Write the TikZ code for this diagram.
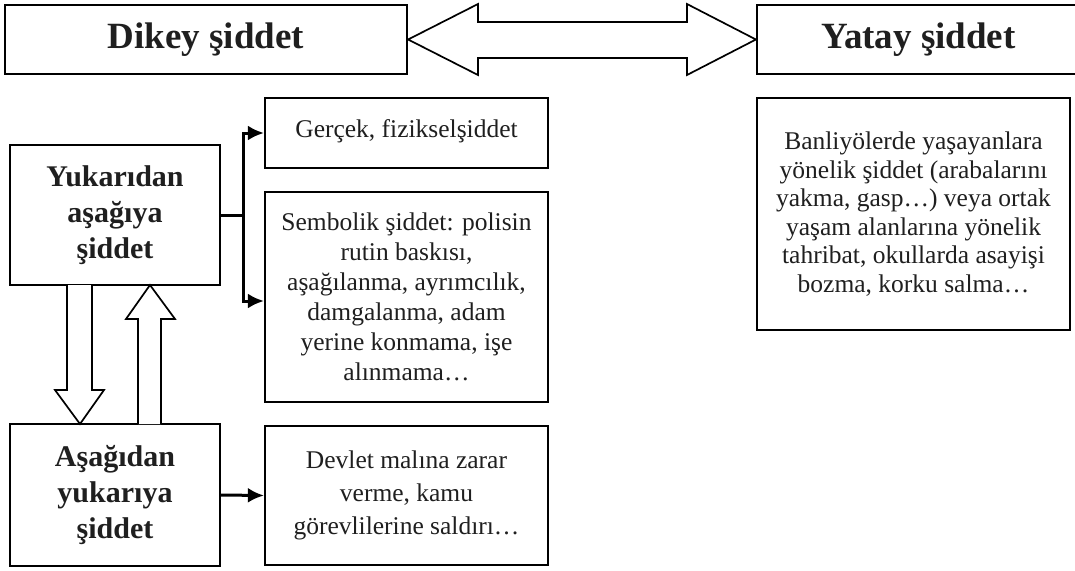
\documentclass[tikz,border=0pt]{standalone}
\usepackage{fontspec}
\setmainfont{Liberation Serif}
\usetikzlibrary{arrows.meta,calc}
\begin{document}
\begin{tikzpicture}[x=1pt,y=-1pt,
  box/.style={draw=black,line width=2.2pt,align=center,inner sep=0pt,fill=white,text=black!88},
  titlebox/.style={box,font=\fontsize{37}{42}\selectfont\bfseries},
  levelbox/.style={box,font=\fontsize{30}{36}\selectfont\bfseries},
  descbox/.style={box,font=\fontsize{25.5}{30}\selectfont},
  conn/.style={line width=3pt,-{Latex[length=16pt,width=15pt]}},
  hollow/.style={draw=black,line width=1.7pt,fill=white,line join=miter}]
\useasboundingbox (0,0) rectangle (1075,570);
\clip (0,0) rectangle (1075,570);
\fill[white] (0,0) rectangle (1075,570);
% top boxes
\node[titlebox,minimum width=402pt,minimum height=69pt] (dik) at (206,39.5) {Dikey şiddet};
\node[titlebox,minimum width=323pt,minimum height=69pt] (yat) at (918.5,39.5) {Yatay şiddet};
% double hollow arrow
\draw[hollow] (dik.east) -- (478,4) -- (478,22) -- (687,22) -- (687,4) -- (yat.west)
  -- (687,75) -- (687,58) -- (478,58) -- (478,75) -- cycle;
% left boxes
\node[levelbox,minimum width=210pt,minimum height=140pt] (yuk) at (115,215) {Yukarıdan\\aşağıya\\şiddet};
\node[levelbox,minimum width=210pt,minimum height=142pt] (asa) at (115,495) {Aşağıdan\\yukarıya\\şiddet};
% middle boxes
\node[descbox,minimum width=283pt,minimum height=70pt] (ger) at (406.5,133) {\raisebox{8pt}{Gerçek, fizikselşiddet}};
\node[descbox,minimum width=283pt,minimum height=210pt] (sem) at (406.5,297)
  {\raisebox{5pt}{\parbox{272pt}{\centering Sembolik şiddet: polisin\\rutin baskısı,\\aşağılanma, ayrımcılık,\\damgalanma, adam\\yerine konmama, işe\\alınmama…}}};
\node[descbox,font=\fontsize{25.5}{33}\selectfont,minimum width=283pt,minimum height=139pt] (dev) at (406.5,495.5)
  {\raisebox{-4pt}{\parbox{272pt}{\centering Devlet malına zarar\\verme, kamu\\görevlilerine saldırı…}}};
% right box
\node[descbox,font=\fontsize{25.5}{28.5}\selectfont,minimum width=313pt,minimum height=232pt] (ban) at (913.5,214)
  {\parbox{305pt}{\centering Banliyölerde yaşayanlara\\yönelik şiddet (arabalarını\\yakma, gasp…) veya ortak\\yaşam alanlarına yönelik\\tahribat, okullarda asayişi\\bozma, korku salma…}};
% connectors
\draw[line width=3pt] (yuk.east) -- (243,215) coordinate (j);
\draw[conn] (j) |- (ger.west);
\draw[conn] (j) |- ([yshift=-4pt]sem.west);
\draw[conn] (asa.east) -- (dev.west);
% vertical hollow arrows
\draw[hollow] (67,285) -- (67,390) -- (55,390) -- (80,424) -- (104,390) -- (92,390) -- (92,285);
\draw[hollow] (138,424) -- (138,319) -- (126,319) -- (150,285) -- (175,319) -- (161,319) -- (161,424);
\end{tikzpicture}
\end{document}
